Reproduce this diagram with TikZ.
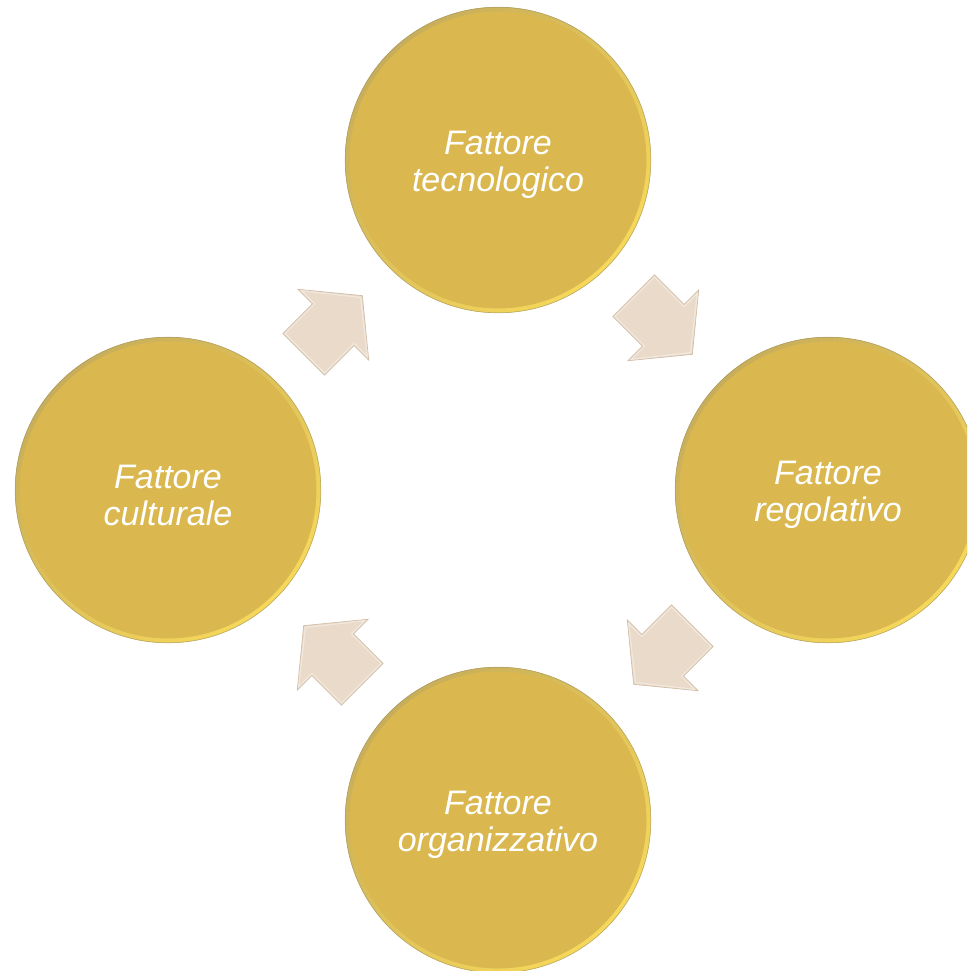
\documentclass[tikz,border=0pt]{standalone}
\usepackage{fontspec}
\setmainfont{Liberation Sans}
\usetikzlibrary{calc}
\definecolor{disc}{HTML}{DAB84F}
\definecolor{discdark}{HTML}{C8AE5A}
\definecolor{disclight}{HTML}{F6D85A}
\definecolor{arrowfill}{HTML}{E9DACA}
\definecolor{arrowedge}{HTML}{D2BEA8}
\definecolor{arrowlight}{HTML}{F4ECE2}

\begin{document}
\begin{tikzpicture}[x=1pt,y=-1pt,
  factor/.style={circle, minimum size=306pt, inner sep=0pt, fill=disc},
  factortext/.style={text=white, font=\fontsize{34}{37}\selectfont\itshape, align=center},
  cyclearrow/.style={fill=arrowfill, draw=arrowedge, line width=0.7pt, line join=miter},
  blockarrow/.pic={
    \draw[cyclearrow] (-41.5,-29.5) -- (0.5,-29.5) -- (0.5,-50) -- (41.5,0)
      -- (0.5,50) -- (0.5,29.5) -- (-41.5,29.5) -- cycle;
    \draw[arrowlight, line width=1.2pt, line join=miter, opacity=0.8]
      (-40,-28) -- (2,-28) -- (2,-46.5) -- (39,0) -- (2,46.5) -- (2,28) -- (-40,28) -- cycle;
  }]
\clip (0,0) rectangle (967,971);
\useasboundingbox (0,0) rectangle (967,971);

% the four factors around the cycle
\node[factor] (tec) at (498,160) {};
\node[factor] (reg) at (828,490) {};
\node[factor] (org) at (498,820) {};
\node[factor] (cul) at (168,490) {};

% bevelled rim of each disc
\foreach \n in {tec,reg,org,cul}{
  \shade[even odd rule, top color=discdark, middle color=disc, bottom color=disclight,
    shading angle=45] (\n.center) circle (153pt) (\n.center) circle (148.5pt);
  \draw[gray!70!disc, line width=0.6pt, opacity=0.6] (\n.center) circle (152.8pt);
}

% labels
\node[factortext] (tec-t) at ([yshift=-5pt]tec.center) {Fattore\\tecnologico};
\node[factortext] (reg-t) at ([yshift=-5pt]reg.center) {Fattore\\regolativo};
\node[factortext] (org-t) at ([yshift=-5pt]org.center) {Fattore\\organizzativo};
\node[factortext] (cul-t) at ([yshift=-5pt]cul.center) {Fattore\\culturale};

% block arrows between consecutive factors
\pic[rotate=-45]  at ($(tec)!0.5!(reg)$) {blockarrow};
\pic[rotate=-135] at ($(reg)!0.5!(org)$) {blockarrow};
\pic[rotate=135]  at ($(org)!0.5!(cul)$) {blockarrow};
\pic[rotate=45]   at ($(cul)!0.5!(tec)$) {blockarrow};
\end{tikzpicture}
\end{document}
